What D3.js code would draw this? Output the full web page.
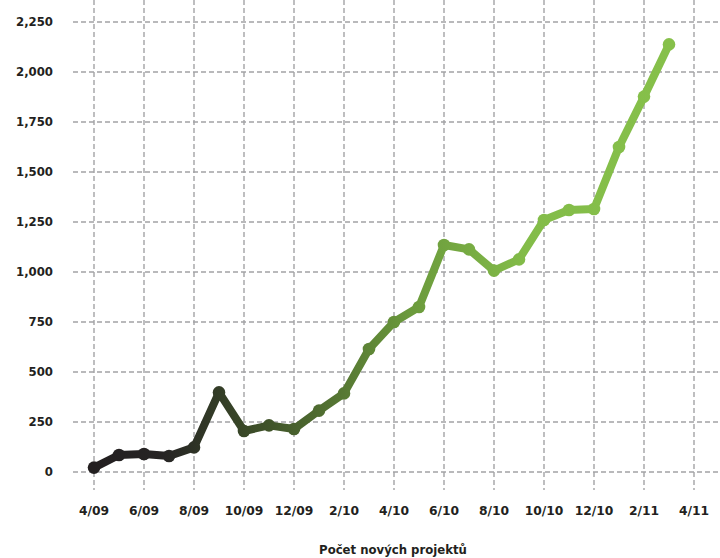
<!DOCTYPE html>
<html>
<head>
<meta charset="utf-8">
<script src="https://cdn.jsdelivr.net/npm/d3@7"></script>
<style>
  html, body { margin: 0; padding: 0; background: #fff; }
  svg text { font-family: "DejaVu Sans", sans-serif; font-weight: bold; fill: #231f20; }
</style>
</head>
<body>
<svg id="chart" width="720" height="558"></svg>
<script>
// Monthly count of new projects, 4/2009 – 3/2011
const months = ["4/09","5/09","6/09","7/09","8/09","9/09","10/09","11/09","12/09",
  "1/10","2/10","3/10","4/10","5/10","6/10","7/10","8/10","9/10","10/10","11/10","12/10",
  "1/11","2/11","3/11"];
const projects = [22, 85, 90, 80, 123, 398, 205, 233, 215, 307, 393, 615, 750, 825,
  1135, 1113, 1007, 1063, 1260, 1310, 1315, 1625, 1877, 2138];
const xTickLabels = ["4/09","6/09","8/09","10/09","12/09","2/10","4/10","6/10","8/10","10/10","12/10","2/11","4/11"];
const yTicks = [0, 250, 500, 750, 1000, 1250, 1500, 1750, 2000, 2250];
const axisTitle = "Počet nových projektů";

const svg = d3.select("#chart");
const W = 720, H = 558;

const x = d3.scaleLinear().domain([0, 24]).range([94, 694]);
const y = d3.scaleLinear().domain([0, 2250]).range([472, 22]);

const grid = svg.append("g")
  .attr("stroke", "#a3a3a5").attr("stroke-width", 1.4)
  .attr("stroke-dasharray", "5,3");

// horizontal grid
grid.selectAll("line.h").data(yTicks).join("line")
  .attr("class", "h")
  .attr("x1", 73).attr("x2", W)
  .attr("y1", d => y(d)).attr("y2", d => y(d));

// vertical grid, every two months
grid.selectAll("line.v").data(xTickLabels).join("line")
  .attr("class", "v")
  .attr("x1", (d, i) => x(i * 2)).attr("x2", (d, i) => x(i * 2))
  .attr("y1", 0).attr("y2", 490);

// y labels
svg.append("g").selectAll("text").data(yTicks).join("text")
  .attr("x", 53).attr("y", d => y(d))
  .attr("dy", "0.36em")
  .attr("text-anchor", "end")
  .attr("font-size", 11.7)
  .text(d => d3.format(",")(d));

// x labels
svg.append("g").selectAll("text").data(xTickLabels).join("text")
  .attr("x", (d, i) => x(i * 2)).attr("y", 515)
  .attr("text-anchor", "middle")
  .attr("font-size", 12.3)
  .text(d => d);

// axis title
svg.append("text")
  .attr("x", 393).attr("y", 554)
  .attr("text-anchor", "middle")
  .attr("font-size", 11.7)
  .text(axisTitle);

// line gradient from black to green along the x direction
const defs = svg.append("defs");
const grad = defs.append("linearGradient")
  .attr("id", "lineGrad")
  .attr("gradientUnits", "userSpaceOnUse")
  .attr("x1", x(0)).attr("x2", x(23)).attr("y1", 0).attr("y2", 0);
grad.append("stop").attr("offset", "0%").attr("stop-color", "#231f20");
grad.append("stop").attr("offset", "12%").attr("stop-color", "#262424");
grad.append("stop").attr("offset", "30%").attr("stop-color", "#3f5229");
grad.append("stop").attr("offset", "55%").attr("stop-color", "#6b9a3c");
grad.append("stop").attr("offset", "75%").attr("stop-color", "#83bc49");
grad.append("stop").attr("offset", "100%").attr("stop-color", "#86c04a");

const line = d3.line()
  .x((d, i) => x(i))
  .y(d => y(d));

svg.append("path")
  .datum(projects)
  .attr("fill", "none")
  .attr("stroke", "url(#lineGrad)")
  .attr("stroke-width", 8)
  .attr("stroke-linejoin", "round")
  .attr("stroke-linecap", "round")
  .attr("d", line);

svg.append("g").selectAll("circle").data(projects).join("circle")
  .attr("cx", (d, i) => x(i))
  .attr("cy", d => y(d))
  .attr("r", 6.3)
  .attr("fill", "url(#lineGrad)");
</script>
</body>
</html>
